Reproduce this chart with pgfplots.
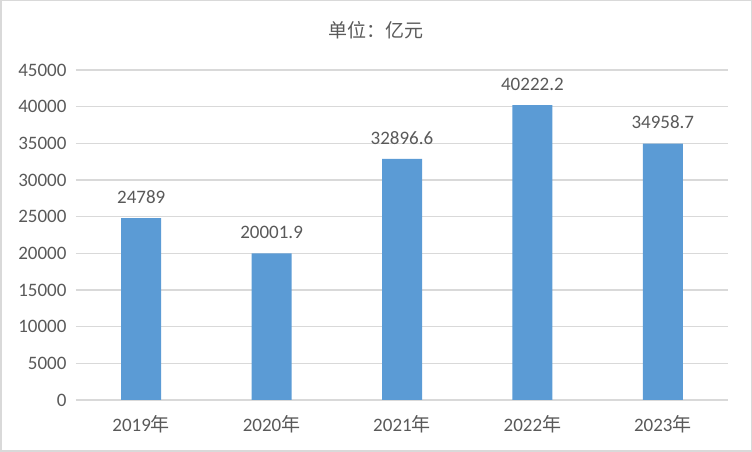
\documentclass[border=0pt]{standalone}
\usepackage{pgfplots}
\pgfplotsset{compat=1.18}
\usepackage{fontspec}
\setmainfont{Carlito}
\newfontfamily\cjk{Noto Sans CJK SC}
\definecolor{barblue}{HTML}{5B9BD5}
\definecolor{txt}{HTML}{595959}
\definecolor{gridc}{HTML}{D9D9D9}
\begin{document}
\begin{tikzpicture}[x=1pt,y=1pt]
\path[use as bounding box] (0,0) rectangle (752,452);
\draw[gridc,line width=1.5pt] (0.75,0.75) rectangle (751.25,451.25);
\node[txt,font=\cjk\fontsize{19}{22}\selectfont] at (376,422) {单位：亿元};
\begin{axis}[
  at={(76pt,52pt)}, anchor=south west,
  scale only axis, width=652pt, height=330pt,
  xmin=-0.5, xmax=4.5, ymin=0, ymax=45000,
  ytick={0,5000,...,45000},
  xtick={0,1,2,3,4},
  xticklabels={2019{\cjk 年},2020{\cjk 年},2021{\cjk 年},2022{\cjk 年},2023{\cjk 年}},
  ymajorgrids, grid style={gridc,line width=1.5pt},
  axis x line*=bottom, axis y line*=left,
  x axis line style={gridc,line width=1.5pt,-},
  y axis line style={draw=none},
  major tick length=0pt,
  tick label style={txt,font=\fontsize{19}{22}\selectfont},
  /pgf/number format/assume math mode=true,
  scaled y ticks=false,
  yticklabel style={/pgf/number format/fixed,/pgf/number format/1000 sep={}},
  xticklabel style={yshift=-12pt},
  yticklabel style={xshift=-6pt},
  clip=false,
]
\addplot[ybar, bar width=40pt, fill=barblue, draw=none,
  nodes near coords, every node near coord/.append style={txt,font=\fontsize{19}{22}\selectfont,yshift=11pt},
  point meta=explicit symbolic]
  coordinates {(0,24789)[24789] (1,20001.9)[20001.9] (2,32896.6)[32896.6] (3,40222.2)[40222.2] (4,34958.7)[34958.7]};
\end{axis}
\end{tikzpicture}
\end{document}
